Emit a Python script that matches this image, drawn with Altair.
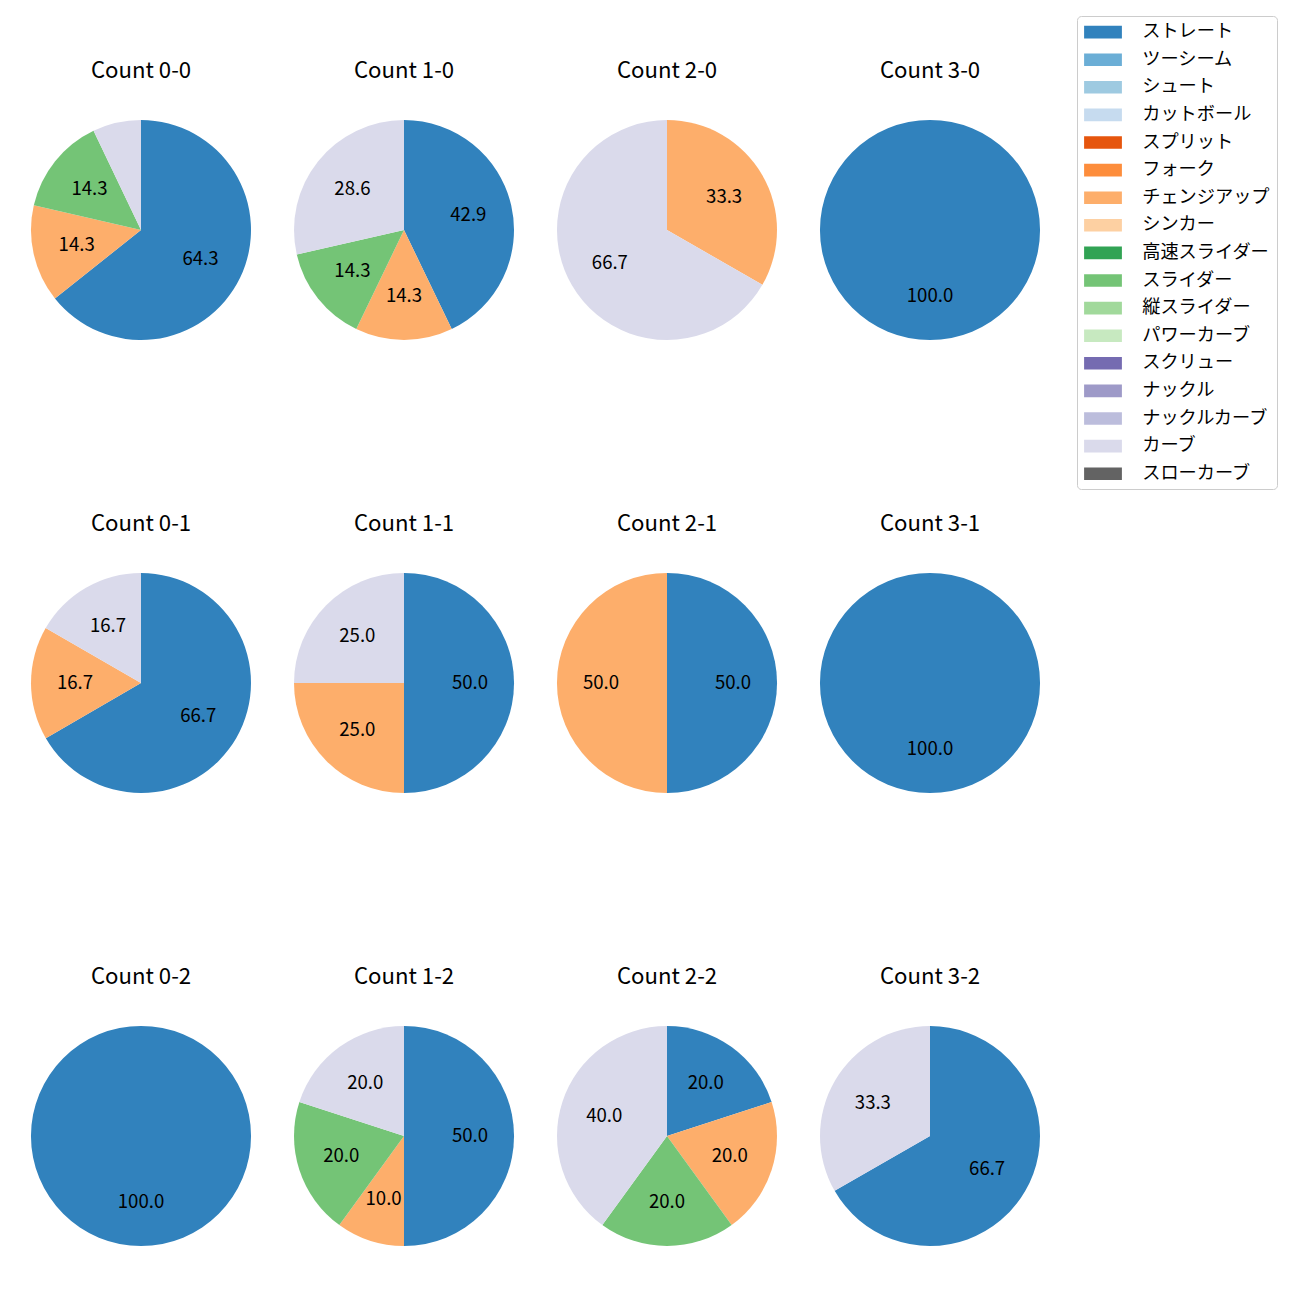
import altair as alt
import pandas as pd

FONT = "Noto Sans CJK JP"

pitch_types = ["ストレート", "ツーシーム", "シュート", "カットボール", "スプリット", "フォーク",
               "チェンジアップ", "シンカー", "高速スライダー", "スライダー", "縦スライダー",
               "パワーカーブ", "スクリュー", "ナックル", "ナックルカーブ", "カーブ", "スローカーブ"]
pitch_colors = ["#3182bd", "#6baed6", "#9ecae1", "#c6dbef", "#e6550d", "#fd8d3c",
                "#fdae6b", "#fdd0a2", "#31a354", "#74c476", "#a1d99b", "#c7e9c0",
                "#756bb1", "#9e9ac8", "#bcbddc", "#dadaeb", "#636363"]

counts = ["0-0", "1-0", "2-0", "3-0",
          "0-1", "1-1", "2-1", "3-1",
          "0-2", "1-2", "2-2", "3-2"]

# percentage share per count (same order as counts)
straight = [64.3, 42.9, 0.0, 100.0, 66.7, 50.0, 50.0, 100.0, 100.0, 50.0, 20.0, 66.7]
changeup = [14.3, 14.3, 33.3, 0.0, 16.7, 25.0, 50.0, 0.0, 0.0, 10.0, 20.0, 0.0]
slider = [14.3, 14.3, 0.0, 0.0, 0.0, 0.0, 0.0, 0.0, 0.0, 20.0, 20.0, 0.0]
curve = [7.1, 28.6, 66.7, 0.0, 16.7, 25.0, 0.0, 0.0, 0.0, 20.0, 40.0, 33.3]

series = {"ストレート": straight, "チェンジアップ": changeup, "スライダー": slider, "カーブ": curve}

color_enc = alt.Color(
    "pitch:N",
    scale=alt.Scale(domain=pitch_types, range=pitch_colors),
    legend=alt.Legend(
        title=None, orient="none", legendX=1046, legendY=-104,
        symbolType="M-1,-0.7L3.2,-0.7L3.2,0.7L-1,0.7Z", symbolSize=324,
        symbolStrokeWidth=0, symbolOpacity=1,
        labelFont=FONT, labelFontSize=18.2, labelColor="black", labelLimit=400,
        labelOffset=40, rowPadding=8.6, padding=7,
        strokeColor="#cccccc", cornerRadius=4, fillColor="white",
    ),
)


def panel(i):
    rows = []
    for name, vals in series.items():
        v = vals[i]
        if v > 0:
            rows.append({"pitch": name, "idx": pitch_types.index(name), "pct": v,
                         "label": f"{v:.1f}" if v >= 10 else ""})
    df = pd.DataFrame(rows)
    base = alt.Chart(df)
    arc = base.mark_arc(radius=110).encode(
        theta=alt.Theta("pct:Q", stack=True),
        order=alt.Order("idx:Q"),
        color=color_enc,
    )
    txt = base.mark_text(radius=66, font=FONT, fontSize=18.6, color="black").encode(
        theta=alt.Theta("pct:Q", stack=True),
        order=alt.Order("idx:Q"),
        detail="pitch:N",
        text="label:N",
    )
    return alt.layer(arc, txt).properties(
        width=220, height=220, title=alt.TitleParams(text=f"Count {counts[i]}")
    )


rows = [alt.hconcat(*[panel(r * 4 + c) for c in range(4)], spacing=43) for r in range(3)]
chart = alt.vconcat(*rows, spacing=172).properties(
    padding={"left": 23, "top": 7, "right": 5, "bottom": 5}
).configure_view(strokeWidth=0).configure_title(
    font=FONT, fontSize=22.2, fontWeight="normal", color="black", offset=38, anchor="middle"
)

chart.save("out.html", embed_options={"renderer": "svg", "actions": False})
